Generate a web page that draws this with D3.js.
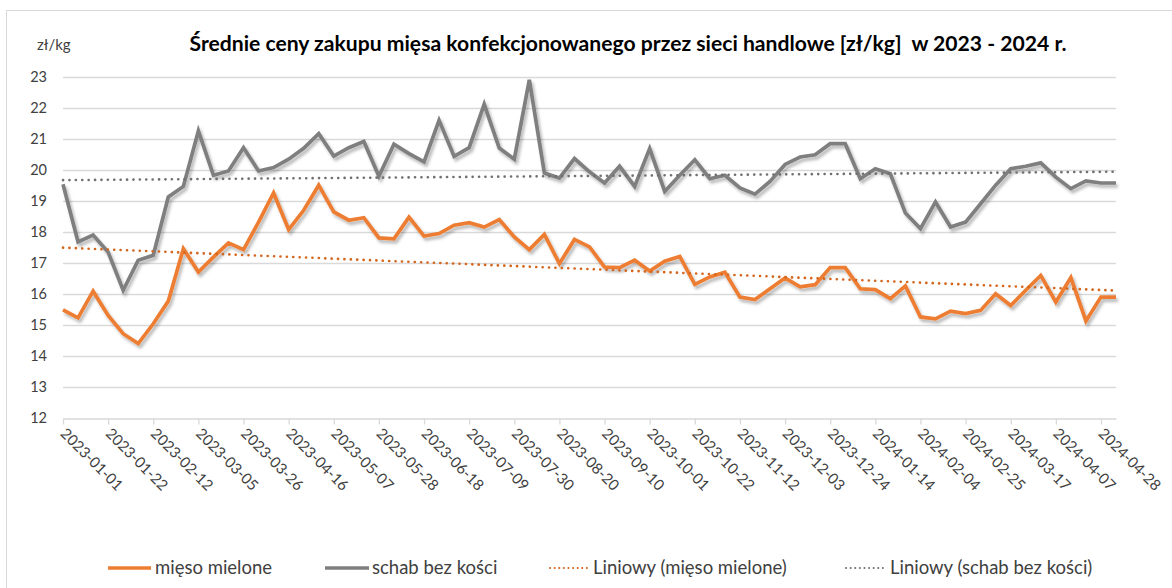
<!DOCTYPE html>
<head>
    <meta charset="utf-8">
    <title>Średnie ceny zakupu mięsa</title>
    <style>
        body { margin: 0; background: #fff; }
        text { font-family: Lato, "Open Sans", sans-serif; fill: #404040; }
    </style>
</head>
<body>

<svg width="1172" height="588"></svg>

<script src="https://d3js.org/d3.v7.min.js"></script>

<script>

    // weekly prices, first week 2023-01-01, 71 weeks
    var startDate = "2023-01-01";
    var weekCount = 71;

    var tickLabels = ["2023-01-01", "2023-01-22", "2023-02-12", "2023-03-05", "2023-03-26",
        "2023-04-16", "2023-05-07", "2023-05-28", "2023-06-18", "2023-07-09", "2023-07-30",
        "2023-08-20", "2023-09-10", "2023-10-01", "2023-10-22", "2023-11-12", "2023-12-03",
        "2023-12-24", "2024-01-14", "2024-02-04", "2024-02-25", "2024-03-17", "2024-04-07",
        "2024-04-28"];

    var miesoMielone = [15.49, 15.23, 16.09, 15.31, 14.72, 14.40, 15.04, 15.77, 17.46, 16.71,
        17.19, 17.65, 17.43, 18.32, 19.26, 18.08, 18.70, 19.51, 18.65, 18.38,
        18.46, 17.81, 17.78, 18.48, 17.87, 17.95, 18.22, 18.30, 18.16, 18.40,
        17.84, 17.43, 17.92, 16.98, 17.76, 17.52, 16.87, 16.85, 17.09, 16.74,
        17.06, 17.21, 16.31, 16.55, 16.70, 15.90, 15.82, 16.17, 16.52, 16.23,
        16.30, 16.85, 16.85, 16.17, 16.14, 15.85, 16.26, 15.26, 15.20, 15.45,
        15.37, 15.47, 16.01, 15.63, 16.12, 16.60, 15.74, 16.53, 15.13, 15.90, 15.90];

    var schabBezKosci = [19.54, 17.68, 17.90, 17.35, 16.12, 17.09, 17.25, 19.13, 19.47, 21.26,
        19.83, 19.97, 20.72, 19.97, 20.08, 20.35, 20.70, 21.17, 20.45, 20.72,
        20.92, 19.80, 20.83, 20.53, 20.26, 21.60, 20.44, 20.72, 22.12, 20.71,
        20.35, 22.91, 19.90, 19.74, 20.37, 19.94, 19.58, 20.12, 19.47, 20.69,
        19.31, 19.83, 20.33, 19.72, 19.83, 19.42, 19.22, 19.63, 20.18, 20.42,
        20.49, 20.85, 20.85, 19.72, 20.04, 19.88, 18.61, 18.11, 18.97, 18.16,
        18.32, 18.91, 19.51, 20.04, 20.12, 20.23, 19.77, 19.40, 19.65, 19.58, 19.58];

    var yTicks = [12, 13, 14, 15, 16, 17, 18, 19, 20, 21, 22, 23];

    var seriesNames = ["mięso mielone", "schab bez kości"];
    var colors = ["#ED7D31", "#7F7F7F"];
    var trendColors = ["#D4661E", "#707070"];

    var fmt = d3.utcFormat("%Y-%m-%d");
    var categories = d3.range(weekCount).map(function(i) {
        return fmt(d3.utcDay.offset(new Date(startDate + "T00:00:00Z"), i * 7));
    });

    var svg = d3.select("svg");

    // chart frame
    svg.append("rect")
        .attr("x", 6.5).attr("y", 10.5)
        .attr("width", 1200).attr("height", 600)
        .attr("fill", "none")
        .attr("stroke", "#d9d9d9");

    var x = d3.scalePoint()
        .domain(categories)
        .range([63, 1116]);

    var y = d3.scaleLinear()
        .domain([12, 23])
        .range([418, 77]);

    // drop shadow like in the spreadsheet chart
    var defs = svg.append("defs");
    var filter = defs.append("filter")
        .attr("id", "shadow")
        .attr("x", "-5%").attr("y", "-20%")
        .attr("width", "110%").attr("height", "140%");
    filter.append("feDropShadow")
        .attr("dx", 2).attr("dy", 3)
        .attr("stdDeviation", 1.6)
        .attr("flood-color", "#000")
        .attr("flood-opacity", 0.28);

    // gridlines
    svg.append("g")
        .selectAll("line")
        .data(yTicks.slice(1))
        .enter().append("line")
            .attr("x1", x.range()[0])
            .attr("x2", x.range()[1])
            .attr("y1", function(d) { return Math.round(y(d)) + 0.5; })
            .attr("y2", function(d) { return Math.round(y(d)) + 0.5; })
            .attr("stroke", "#d9d9d9")
            .attr("stroke-width", 1.3);

    // y labels
    svg.append("g")
        .selectAll("text")
        .data(yTicks)
        .enter().append("text")
            .attr("x", 47)
            .attr("y", function(d) { return y(d) + 5; })
            .attr("text-anchor", "end")
            .attr("font-size", 14.5)
            .text(function(d) { return d; });

    svg.append("text")
        .attr("x", 37)
        .attr("y", 50)
        .attr("font-size", 15)
        .text("zł/kg");

    // x axis
    var xAxis = d3.axisBottom(x)
        .tickValues(tickLabels)
        .tickSize(6)
        .tickSizeOuter(0);

    var gx = svg.append("g")
        .attr("transform", "translate(0," + (Math.round(y(12)) + 0.5) + ")")
        .call(xAxis);

    gx.select(".domain").attr("stroke", "#d9d9d9").attr("stroke-width", 1.3);
    gx.selectAll(".tick line").attr("stroke", "#d9d9d9").attr("stroke-width", 1.3);
    gx.selectAll(".tick text")
        .attr("font-size", 15)
        .attr("font-family", "Lato, sans-serif")
        .attr("fill", "#404040")
        .attr("text-anchor", "start")
        .attr("dy", null)
        .attr("y", 0)
        .attr("transform", "translate(-4,16) rotate(45)");

    // series lines
    var line = d3.line()
        .x(function(d, i) { return x(categories[i]); })
        .y(function(d) { return y(d); });

    var allSeries = [miesoMielone, schabBezKosci];

    // linear trend from the data
    function trend(values) {
        var n = values.length;
        var xs = d3.range(n);
        var mx = d3.mean(xs), my = d3.mean(values);
        var num = d3.sum(xs, function(i) { return (i - mx) * (values[i] - my); });
        var den = d3.sum(xs, function(i) { return (i - mx) * (i - mx); });
        var b = num / den, a = my - b * mx;
        return xs.map(function(i) { return a + b * i; });
    }

    svg.append("g")
        .selectAll("path")
        .data(allSeries)
        .enter().append("path")
            .attr("d", line)
            .attr("fill", "none")
            .attr("stroke", function(d, i) { return colors[i]; })
            .attr("stroke-width", 3.7)
            .attr("stroke-linejoin", "miter")
            .attr("filter", "url(#shadow)");

    svg.append("g")
        .selectAll("path")
        .data(allSeries.map(trend))
        .enter().append("path")
            .attr("d", line)
            .attr("fill", "none")
            .attr("stroke", function(d, i) { return trendColors[i]; })
            .attr("stroke-width", 2.6)
            .attr("stroke-linecap", "round")
            .attr("stroke-dasharray", "0.1 6.3");

    // title
    svg.append("text")
        .attr("x", 628)
        .attr("y", 51)
        .attr("text-anchor", "middle")
        .attr("font-size", 20.5)
        .attr("font-weight", "bold")
        .attr("textLength", 877)
        .attr("lengthAdjust", "spacingAndGlyphs")
        .style("fill", "#000")
        .style("white-space", "pre")
        .text("Średnie ceny zakupu mięsa konfekcjonowanego przez sieci handlowe [zł/kg]  w 2023 - 2024 r.");

    // legend
    var legendItems = [
        { label: seriesNames[0], color: colors[0], dotted: false, x0: 108, x1: 151, tx: 155 },
        { label: seriesNames[1], color: colors[1], dotted: false, x0: 325, x1: 369, tx: 372 },
        { label: "Liniowy (" + seriesNames[0] + ")", color: trendColors[0], dotted: true, x0: 550, x1: 588, tx: 593 },
        { label: "Liniowy (" + seriesNames[1] + ")", color: trendColors[1], dotted: true, x0: 846, x1: 884, tx: 890 }
    ];

    var legend = svg.append("g").selectAll("g")
        .data(legendItems)
        .enter().append("g");

    legend.append("line")
        .attr("x1", function(d) { return d.x0; })
        .attr("x2", function(d) { return d.x1; })
        .attr("y1", 568).attr("y2", 568)
        .attr("stroke", function(d) { return d.color; })
        .attr("stroke-width", function(d) { return d.dotted ? 2 : 3.7; })
        .attr("stroke-linecap", function(d) { return d.dotted ? "round" : "butt"; })
        .attr("stroke-dasharray", function(d) { return d.dotted ? "0.1 4.5" : null; });

    legend.append("text")
        .attr("x", function(d) { return d.tx; })
        .attr("y", 574)
        .attr("font-size", 18.5)
        .text(function(d) { return d.label; });

</script>
</body>
